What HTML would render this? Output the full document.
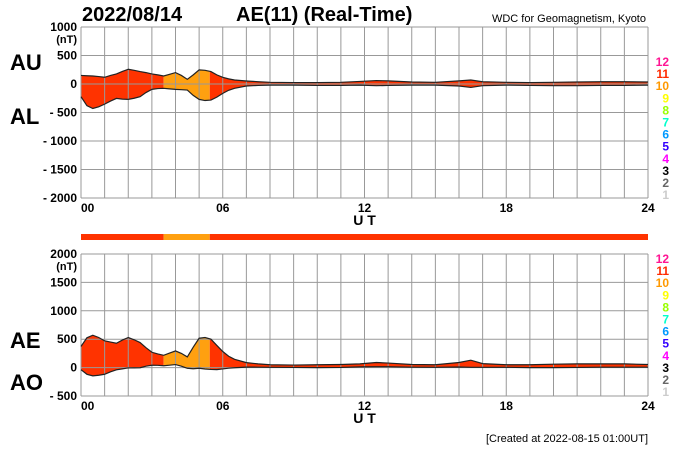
<!DOCTYPE html>
<html><head><meta charset="utf-8"><style>
html,body{margin:0;padding:0;background:#fff;}
svg{display:block;font-family:"Liberation Sans",Arial,sans-serif;}
</style></head><body>
<svg id="c" width="700" height="450" viewBox="0 0 700 450">
<text x="82" y="21" font-size="20" font-weight="bold">2022/08/14</text>
<text x="236" y="21" font-size="20" font-weight="bold">AE(11) (Real-Time)</text>
<text x="646" y="22" font-size="11" text-anchor="end">WDC for Geomagnetism, Kyoto</text>
<text x="10" y="70" font-size="22" font-weight="bold">AU</text>
<text x="10" y="124" font-size="22" font-weight="bold">AL</text>
<text x="10" y="348" font-size="22" font-weight="bold">AE</text>
<text x="10" y="390" font-size="22" font-weight="bold">AO</text>
<text x="648" y="442" font-size="11" text-anchor="end">[Created at 2022-08-15 01:00UT]</text>
<g id="g"></g>
</svg>
<script>
const hours=[0,0.25,0.5,0.75,1,1.25,1.5,1.75,2,2.25,2.5,2.75,3,3.25,3.5,3.75,4,4.25,4.5,4.75,5,5.25,5.5,5.75,6,6.25,6.5,7,7.5,8,9,10,11,11.8,12.5,13,14,15,16,16.5,17,18,19,20,21,22,23,24];
const auValues=[150,145,140,130,118,150,176,220,259,240,218,200,176,160,141,170,200,150,82,160,247,240,218,160,118,90,70,53,40,30,25,25,30,45,60,55,35,30,55,70,40,30,25,30,35,40,40,35];
const alValues=[-223,-380,-430,-400,-353,-300,-253,-265,-270,-250,-223,-150,-94,-80,-76,-85,-94,-100,-106,-200,-270,-290,-282,-230,-165,-110,-76,-35,-25,-20,-20,-25,-25,-20,-30,-25,-20,-20,-35,-60,-30,-20,-25,-30,-30,-25,-25,-20];
const segStart=[0,3.5,5.45];
const segEnd=[3.5,5.45,24];
const segLevel=[11,10,11];
const yTicks1=[1000,500,0,-500,-1000,-1500,-2000];
const yTicks2=[2000,1500,1000,500,0,-500];
const xTickLabels=["00","06","12","18","24"];
const levelNums=[12,11,10,9,8,7,6,5,4,3,2,1];
const levelColors={12:"#ff1493",11:"#ff2a00",10:"#ff9900",9:"#ffff00",8:"#99ff00",7:"#00ffcc",6:"#0099ff",5:"#3300ff",4:"#ff00ff",3:"#000000",2:"#666666",1:"#cccccc"};
const fillColors={11:"#ff3300",10:"#ffa010"};
const NS="http://www.w3.org/2000/svg";
const g=document.getElementById('g');
const X0=81,X1=648;
const sx=h=>X0+(X1-X0)*h/24;
function mk(t,a,p){const e=document.createElementNS(NS,t);for(const k in a)e.setAttribute(k,a[k]);(p||g).appendChild(e);return e;}
function panel(id,top,bot,vmax,vmin,ticks,lo,hi,legTop){
  const sy=v=>top+(vmax-v)*(bot-top)/(vmax-vmin);
  for(let i=0;i<segStart.length;i++){
    const pts=[];
    hours.forEach((h,j)=>pts.push(sx(h)+','+sy(hi[j])));
    for(let j=hours.length-1;j>=0;j--)pts.push(sx(hours[j])+','+sy(lo[j]));
    const cl=mk('clipPath',{id:'seg'+id+i});
    mk('rect',{x:sx(segStart[i]),y:top,width:sx(segEnd[i])-sx(segStart[i]),height:bot-top},cl);
    const p=mk('polygon',{points:pts.join(' '),fill:fillColors[segLevel[i]],'clip-path':'url(#seg'+id+i+')'});
    
    
  }
  for(let h=0;h<=24;h++){const l=mk('line',{x1:sx(h),x2:sx(h),y1:top,y2:bot,stroke:'#999','stroke-width':1});
    }
  ticks.forEach(v=>{const y=sy(v);
    const l=mk('line',{x1:X0,x2:X1,y1:y,y2:y,stroke:'#999','stroke-width':1});
    
    const t=mk('text',{x:X0-4,y:y+4,'font-size':12,'font-weight':'bold','text-anchor':'end'});
    t.textContent=(v<0?'- '+(-v):v);
    });
  const u=mk('text',{x:X0-4,y:top+16,'font-size':11,'font-weight':'bold','text-anchor':'end'});u.textContent='(nT)';
  
  [hi,lo].forEach((arr,k)=>{const l=mk('polyline',{points:hours.map((h,j)=>sx(h)+','+sy(arr[j])).join(' '),fill:'none',stroke:'#222','stroke-width':1.2});
    });
  xTickLabels.forEach((s,i)=>{const t=mk('text',{x:sx(i*6),y:bot+14,'font-size':12,'font-weight':'bold','text-anchor':i==0?'start':'middle'});t.textContent=s;
    });
  const ut=mk('text',{x:sx(12),y:bot+27,'font-size':14,'font-weight':'bold','text-anchor':'middle'});ut.textContent='U T';
  
  levelNums.forEach((n,i)=>{const t=mk('text',{x:669,y:legTop+i*12.1,'font-size':12,'font-weight':'bold','text-anchor':'end',fill:levelColors[n]});t.textContent=n;
    });
}
panel('auAl',27,198,1000,-2000,yTicks1,alValues,auValues,66);
const aeValues=auValues.map((v,i)=>v-alValues[i]);
const aoValues=auValues.map((v,i)=>(v+alValues[i])/2);
panel('aeAo',254,396,2000,-500,yTicks2,aoValues,aeValues,263);
for(let i=0;i<segStart.length;i++){
  const r=mk('rect',{x:sx(segStart[i]),y:234,width:sx(segEnd[i])-sx(segStart[i]),height:6,fill:fillColors[segLevel[i]]});
  
  
}
</script>
</body></html>
